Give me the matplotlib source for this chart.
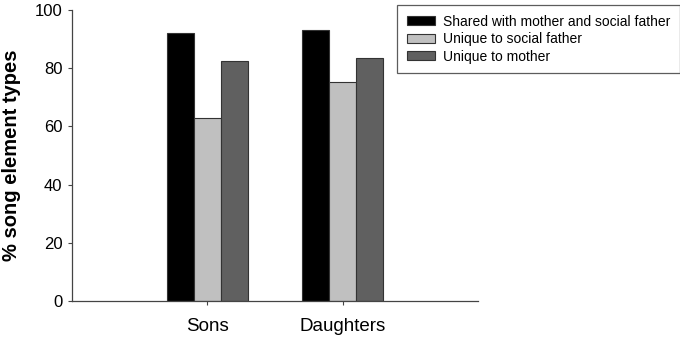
import matplotlib
matplotlib.use("Agg")
import matplotlib.pyplot as plt
import numpy as np

plt.rcParams['font.family'] = ['Liberation Sans', 'DejaVu Sans']

categories = ["Sons", "Daughters"]
series_names = ["Shared with mother and social father", "Unique to social father", "Unique to mother"]
shared = [92.2, 93.2]
unique_father = [63.0, 75.3]
unique_mother = [82.5, 83.5]
yticks = [0, 20, 40, 60, 80, 100]

colors = ["#000000", "#c0c0c0", "#606060"]

fig = plt.figure(figsize=(6.8, 3.38), dpi=100)
ax = fig.add_axes([72/680, 1 - 301/338, (478-72)/680, (301-10)/338])

x = np.arange(len(categories))
w = 0.2
for i, (vals, name, c) in enumerate(zip([shared, unique_father, unique_mother], series_names, colors)):
    ax.bar(x + (i - 1) * w, vals, width=w, color=c, edgecolor="#333333", linewidth=0.8, label=name)

ax.set_xlim(-1.0, 2.0)
ax.set_ylim(0, 100)
ax.set_yticks(yticks)
ax.set_xticks(x)
ax.set_xticklabels(categories, fontsize=13.5)
ax.tick_params(axis='y', labelsize=12, length=3, width=0.8, color="#444444", pad=4)
ax.tick_params(axis='x', length=3, width=0.8, color="#444444", pad=9)
for s in ['top', 'right']:
    ax.spines[s].set_visible(False)
for s in ['left', 'bottom']:
    ax.spines[s].set_color("#444444")
    ax.spines[s].set_linewidth(0.9)
ax.set_ylabel("% song element types", fontsize=14.5, fontweight='bold', labelpad=10)

leg = fig.legend(loc='upper left', bbox_to_anchor=(397/680, 1 - 5/338), fontsize=10,
                 frameon=True, fancybox=False, edgecolor="#333333", handlelength=2.0,
                 handleheight=0.6, borderpad=0.7, labelspacing=0.25, handletextpad=0.6,
                 borderaxespad=0)
leg.get_frame().set_linewidth(0.9)

fig.savefig("out.png", dpi=100)
